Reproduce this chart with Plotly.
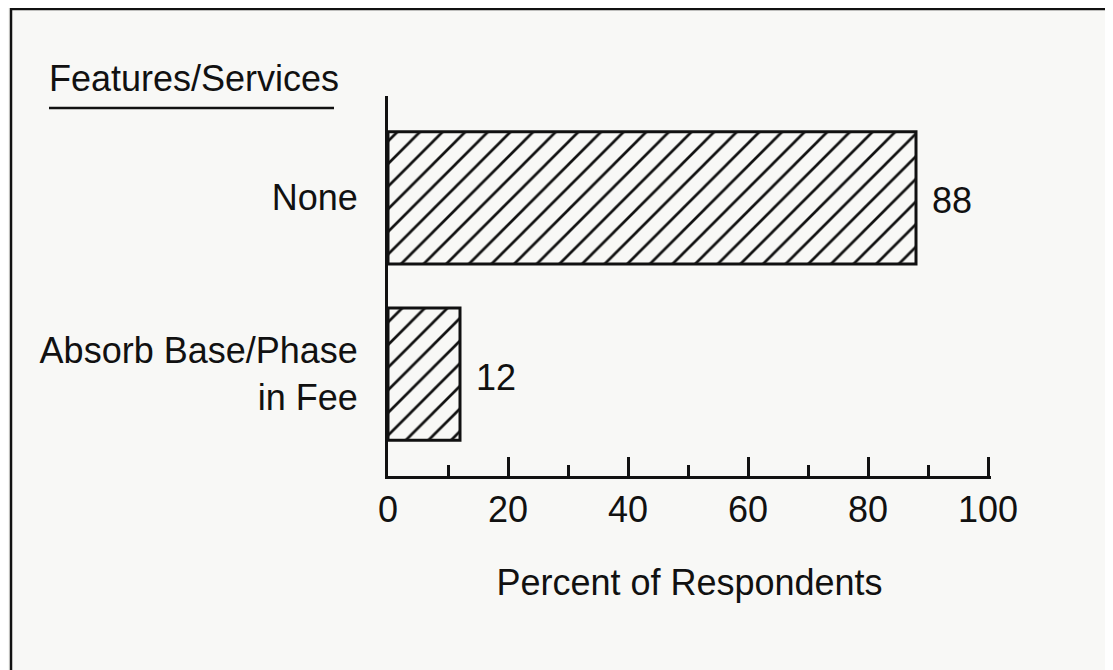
import plotly.graph_objects as go

# Data
categories = ["Absorb Base/Phase<br>in Fee", "None"]
percents = [12, 88]
value_labels = ["12", "88"]
x_tick_vals = [0, 20, 40, 60, 80, 100]
x_tick_text = ["0", "20", "40", "60", "80", "100"]
chart_title = "Features/Services"
x_axis_title = "Percent of Respondents"

FONT = "Liberation Sans, Arial, Helvetica, sans-serif"
INK = "#111111"
BG = "#f8f8f6"

# page has an 8px body margin: compensate so target pixel positions line up
OFF = 8
W, H = 1113 - OFF, 670 - OFF
L, R, T, B = 388 - OFF, 122, 96 - OFF, 194
pw = W - L - R
ph = H - T - B


def px_x(p):
    return (p - OFF - L) / pw


def px_y(p):
    return (H - B - (p - OFF)) / ph


fig = go.Figure()
fig.add_trace(go.Bar(
    x=percents,
    y=categories,
    orientation="h",
    width=0.75,
    marker=dict(
        color=BG,
        line=dict(color=INK, width=3),
        pattern=dict(shape="/", fgcolor=INK, bgcolor=BG, size=16, solidity=0.17,
                     fillmode="replace"),
    ),
    hoverinfo="skip",
    showlegend=False,
))

# value labels placed via data coordinates
for cat, val, lab in zip(categories, percents, value_labels):
    fig.add_annotation(x=val, y=cat, xref="x", yref="y", text=lab, showarrow=False,
                       xanchor="left", yanchor="middle", xshift=14, yshift=-3,
                       font=dict(family=FONT, size=36, color=INK))

# chart title with underline
fig.add_annotation(x=px_x(47), y=px_y(79), xref="paper", yref="paper", text=chart_title,
                   showarrow=False, xanchor="left", yanchor="middle",
                   font=dict(family=FONT, size=36, color=INK))
fig.add_shape(type="line", xref="paper", yref="paper",
              x0=px_x(49), x1=px_x(334), y0=px_y(108), y1=px_y(108),
              line=dict(color=INK, width=2.5))

# outer frame (bottom edge off-canvas)
fig.add_shape(type="rect", xref="paper", yref="paper",
              x0=px_x(11), x1=px_x(1110), y0=px_y(720), y1=px_y(9),
              line=dict(color=INK, width=2.5), fillcolor="rgba(0,0,0,0)")

fig.update_layout(
    width=W, height=H,
    margin=dict(l=L, r=R, t=T, b=B, pad=0),
    paper_bgcolor=BG, plot_bgcolor=BG,
    font=dict(family=FONT, color=INK),
    xaxis=dict(
        range=[0, 100.5],
        tickvals=x_tick_vals, ticktext=x_tick_text,
        ticks="inside", ticklen=19, tickwidth=2.5, tickcolor=INK,
        minor=dict(dtick=10, ticks="inside", ticklen=11, tickwidth=2.5, tickcolor=INK, showgrid=False),
        showline=True, linecolor=INK, linewidth=3,
        showgrid=False, zeroline=False,
        tickfont=dict(family=FONT, size=36, color=INK),
        ticklabelstandoff=0,
        title=dict(text=x_axis_title, font=dict(family=FONT, size=36, color=INK), standoff=41),
        fixedrange=True,
    ),
    yaxis=dict(
        range=[-0.577, 1.577],
        showline=True, linecolor=INK, linewidth=3,
        ticks="", showgrid=False, zeroline=False,
        tickfont=dict(family=FONT, size=36, color=INK),
        ticklabelstandoff=20,
        fixedrange=True,
    ),
)

fig.write_html("out.html")
